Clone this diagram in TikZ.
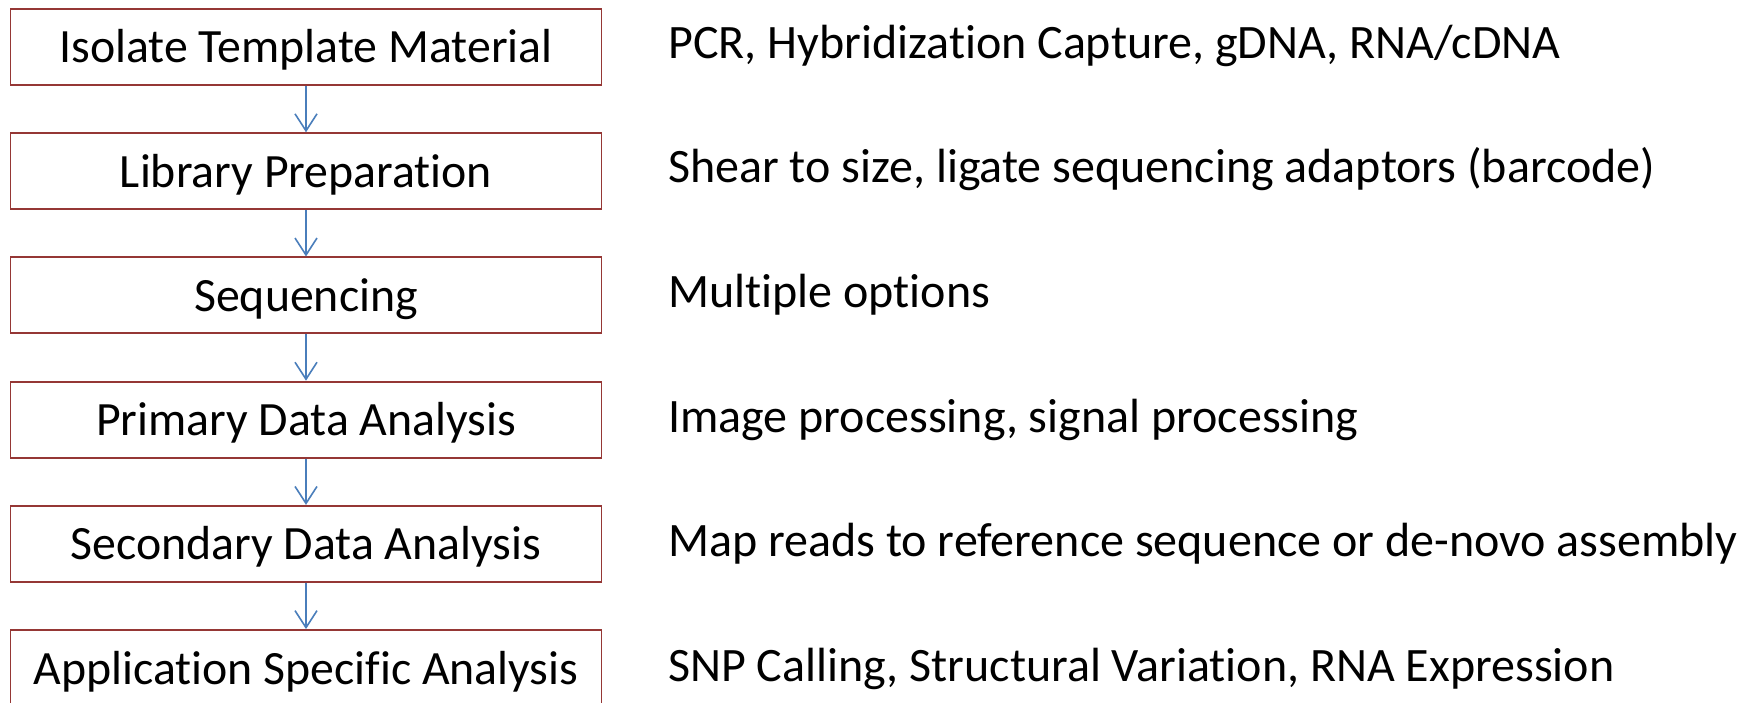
\documentclass[tikz,border=0pt]{standalone}
\usepackage{fontspec}
\setmainfont{Carlito}[Ligatures=NoCommon]
\usetikzlibrary{arrows.meta}
\definecolor{boxred}{HTML}{953735}
\definecolor{arrblue}{HTML}{4A7EBB}
\begin{document}
\begin{tikzpicture}[x=1pt,y=-1pt,
  stepbox/.style={draw=boxred,line width=1.8pt,minimum width=591pt,minimum height=76pt,inner sep=0pt,
    font=\fontsize{47.8}{57}\selectfont,text height=42pt,text depth=10pt},
  desc/.style={anchor=base west,inner sep=0pt,font=\fontsize{48}{57}\selectfont},
  flow/.style={draw=arrblue,line width=1.6pt,-{Straight Barb[length=17pt,width=22pt,line width=1.6pt]}}]
\useasboundingbox (0,0) rectangle (1754,703);
\fill[white] (0,0) rectangle (1754,703);
\node[stepbox] (b1) at (306,47) {Isolate Template Material};
\node[stepbox] (b2) at (306,171.2) {Library Preparation};
\node[stepbox] (b3) at (306,295.4) {Sequencing};
\node[stepbox] (b4) at (306,419.6) {Primary Data Analysis};
\node[stepbox] (b5) at (306,543.8) {Secondary Data Analysis};
\node[stepbox] (b6) at (306,668) {Application Specific Analysis};
\node[desc] (d1) at (668,58.5) {PCR, Hybridization Capture, gDNA, RNA/cDNA};
\node[desc] (d2) at (668,183) {Shear to size, ligate sequencing adaptors (barcode)};
\node[desc] (d3) at (668,307.5) {Multiple options};
\node[desc] (d4) at (668,432) {Image processing, signal processing};
\node[desc] (d5) at (668,556.5) {Map reads to reference sequence or de-novo assembly};
\node[desc] (d6) at (668,681) {SNP Calling, Structural Variation, RNA Expression};
\draw[flow] (b1) -- (b2);
\draw[flow] (b2) -- (b3);
\draw[flow] (b3) -- (b4);
\draw[flow] (b4) -- (b5);
\draw[flow] (b5) -- (b6);
\end{tikzpicture}
\end{document}
